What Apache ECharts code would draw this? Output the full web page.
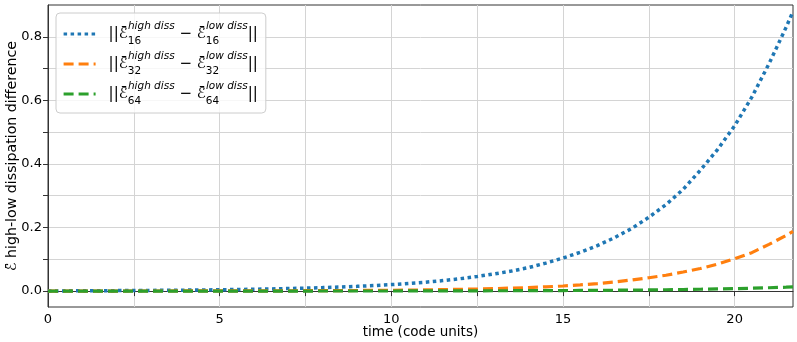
<!DOCTYPE html>
<html>
<head>
<meta charset="utf-8">
<script src="https://cdn.jsdelivr.net/npm/echarts@6/dist/echarts.min.js"></script>
<style>
  html, body { margin: 0; padding: 0; background: #fff; }
  #chart { width: 797px; height: 342px; }
</style>
</head>
<body>
<div id="chart"></div>
<script>
// time axis (code units)
const times = [0, 0.5, 1, 1.5, 2, 2.5, 3, 3.5, 4, 4.5, 5, 5.5, 6, 6.5, 7, 7.5, 8, 8.5, 9, 9.5,
  10, 10.5, 11, 11.5, 12, 12.5, 13, 13.5, 14, 14.5, 15, 15.5, 16, 16.5, 17, 17.5, 18, 18.5, 19, 19.5,
  20, 20.5, 21, 21.5, 21.7]
// N = 16
const diff16 = [0, 0.0008, 0.001, 0.0012, 0.0015, 0.0018, 0.0022, 0.0026, 0.003, 0.0036, 0.0043, 0.005, 0.0058, 0.0068, 0.008, 0.0093, 0.011, 0.0128, 0.015, 0.0175,
  0.0205, 0.024, 0.028, 0.033, 0.039, 0.046, 0.054, 0.063, 0.074, 0.088, 0.104, 0.122, 0.143, 0.168, 0.197, 0.232, 0.272, 0.32, 0.38, 0.445,
  0.52, 0.61, 0.715, 0.83, 0.88]
// N = 32
const diff32 = [0, 0.0001, 0.0001, 0.0002, 0.0002, 0.0003, 0.0003, 0.0004, 0.0005, 0.0005, 0.0006, 0.0007, 0.0008, 0.0009, 0.001, 0.0012, 0.0014, 0.0016, 0.0019, 0.0022,
  0.0026, 0.0032, 0.0038, 0.0046, 0.0055, 0.0065, 0.0078, 0.0094, 0.0112, 0.0134, 0.016, 0.0195, 0.0235, 0.0285, 0.035, 0.042, 0.05, 0.06, 0.071, 0.085,
  0.102, 0.121, 0.147, 0.175, 0.188]
// N = 64
const diff64 = [0, 0, 0, 0, 0, 0.0001, 0.0001, 0.0001, 0.0001, 0.0001, 0.0001, 0.0002, 0.0002, 0.0002, 0.0002, 0.0002, 0.0003, 0.0003, 0.0003, 0.0003,
  0.0004, 0.0005, 0.0006, 0.0007, 0.0008, 0.0009, 0.0011, 0.0012, 0.0014, 0.0016, 0.0018, 0.0021, 0.0024, 0.0028, 0.0032, 0.0037, 0.0043, 0.005, 0.0058, 0.0068,
  0.0078, 0.0091, 0.0106, 0.0123, 0.013]
const seriesNames = ['16', '32', '64']
const xTicks = [0, 2.5, 5, 7.5, 10, 12.5, 15, 17.5, 20]
const xLabels = [0, 5, 10, 15, 20]
const yTicks = [0, 0.1, 0.2, 0.3, 0.4, 0.5, 0.6, 0.7, 0.8]
const yLabels = [0, 0.2, 0.4, 0.6, 0.8]

const chart = echarts.init(document.getElementById('chart'))
const font = 'DejaVu Sans'
const pairs = arr => times.map((t, i) => [t, arr[i]])

const option = {
  animation: false,
  textStyle: { fontFamily: font },
  grid: {
    left: 48, right: 4, top: 5, bottom: 35,
    outerBoundsMode: 'none',
    containLabel: false,
    show: true, borderColor: '#333', borderWidth: 1, backgroundColor: 'transparent'
  },
  legend: {
    orient: 'vertical',
    left: 56,
    top: 13,
    padding: [8, 8, 6, 6],
    itemGap: 4,
    itemWidth: 32,
    itemHeight: 14,
    itemStyle: { opacity: 0 },
    lineStyle: { width: 3.2 },
    backgroundColor: 'rgba(255,255,255,0.8)',
    borderColor: '#cccccc',
    borderWidth: 1,
    borderRadius: 4,
    data: seriesNames,
    formatter: function (n) {
      return '{n|||ℰ̄}{sb|' + n + '}{sp|high diss}{n| − ℰ̄}{sb|' + n + '}{sp|low diss}{n|||}'
    },
    textStyle: {
      fontFamily: font,
      padding: [0, 0, 0, 8],
      lineHeight: 26,
      rich: {
        n: { fontSize: 15, fontFamily: font, color: '#000', lineHeight: 26 },
        sb: { fontSize: 10.5, fontFamily: font, color: '#000', verticalAlign: 'bottom', lineHeight: 12, width: 0.1, align: 'left' },
        sp: { fontSize: 10.5, fontFamily: font, fontStyle: 'italic', color: '#000', verticalAlign: 'top', lineHeight: 12 }
      }
    }
  },
  xAxis: {
    type: 'value',
    min: 0,
    max: 21.7,
    name: 'time (code units)',
    nameLocation: 'middle',
    nameGap: 18,
    nameMoveOverlap: false,
    nameTextStyle: { fontSize: 13.5, color: '#000', fontFamily: font, verticalAlign: 'top' },
    axisLine: { lineStyle: { color: '#333', width: 1 } },
    axisTick: { show: true, length: 5, lineStyle: { color: '#333' }, customValues: xTicks },
    axisLabel: { fontSize: 13, color: '#000', margin: 6, customValues: xLabels, formatter: v => String(v) },
    splitLine: { show: true, lineStyle: { color: '#d4d4d4', width: 1 } }
  },
  yAxis: {
    type: 'value',
    min: -0.05,
    max: 0.9,
    name: 'ℰ̄ high-low dissipation difference',
    nameLocation: 'middle',
    nameGap: 29,
    nameMoveOverlap: false,
    nameTextStyle: { fontSize: 14.2, color: '#000', fontFamily: font },
    axisLine: { show: true, lineStyle: { color: '#333', width: 1 } },
    axisTick: { show: true, length: 5, lineStyle: { color: '#333' }, customValues: yTicks },
    axisLabel: { fontSize: 13, color: '#000', margin: 6, customValues: yLabels, formatter: v => v.toFixed(1) },
    splitLine: { show: true, lineStyle: { color: '#d4d4d4', width: 1 } }
  },
  series: [
    {
      name: '16', type: 'line', symbol: 'none', smooth: false,
      lineStyle: { color: '#1f77b4', width: 3.5, type: [3.5, 3.5] },
      itemStyle: { color: '#1f77b4' },
      data: pairs(diff16)
    },
    {
      name: '32', type: 'line', symbol: 'none',
      lineStyle: { color: '#ff7f0e', width: 3.2, type: [10, 5] },
      itemStyle: { color: '#ff7f0e' },
      data: pairs(diff32)
    },
    {
      name: '64', type: 'line', symbol: 'none',
      lineStyle: { color: '#2ca02c', width: 3.2, type: [10, 5] },
      itemStyle: { color: '#2ca02c' },
      data: pairs(diff64)
    }
  ]
}
chart.setOption(option)
</script>
</body>
</html>
